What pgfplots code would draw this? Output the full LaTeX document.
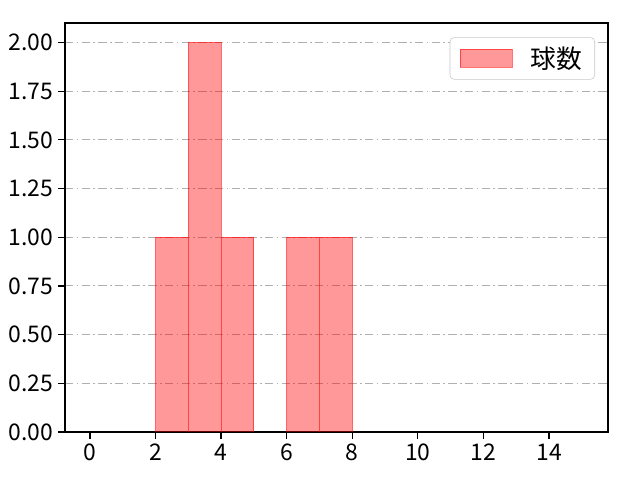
\documentclass[border=0pt]{standalone}
\usepackage{fontspec}
\setmainfont{Noto Sans CJK JP}
\usepackage{pgfplots}
\pgfplotsset{compat=1.18}
\definecolor{barred}{RGB}{255,0,0}
\definecolor{gridgray}{RGB}{176,176,176}
\begin{document}
\begin{tikzpicture}[x=1pt,y=1pt]
\path[use as bounding box] (-46.8pt,-34.56pt) rectangle (414pt,311.04pt);
\begin{axis}[
  scale only axis,
  width=391pt, height=294.5pt,
  xmin=-0.76, xmax=15.8,
  ymin=0, ymax=2.1,
  xtick={0,2,...,14},
  ytick={0,0.25,...,2},
  yticklabel style={/pgf/number format/.cd, fixed, fixed zerofill, precision=2},
  /pgf/number format/assume math mode=true,
  ticklabel style={font=\fontsize{16.5}{19}\selectfont},
  tick align=outside,
  tick pos=left,
  major tick length=5pt,
  tick style={black, line width=0.9pt},
  axis line style={black, line width=1pt},
  ymajorgrids,
  major grid style={gridgray, line width=0.7pt, dash pattern=on 6pt off 2.5pt on 1pt off 2.5pt},
  legend style={at={(0.976,0.965)}, anchor=north east, draw=gridgray!70, rounded corners=3pt,
    font=\fontsize{18.5}{21}\selectfont, inner xsep=7pt, inner ysep=4.5pt},
  legend image code/.code={\draw[#1, sharp corners] (0pt,-6.5pt) rectangle (37.5pt,6.5pt);},
  legend cell align=left,
]
\addplot[ybar, bar width=1, bar shift=0, fill=barred, fill opacity=0.4, draw=barred, draw opacity=0.55, line width=0.7pt]
  coordinates {(2.5,1) (3.5,2) (4.5,1) (6.5,1) (7.5,1)};
\addlegendentry{\hspace{11pt}球数\hspace{4pt}}
\end{axis}
\end{tikzpicture}
\end{document}
